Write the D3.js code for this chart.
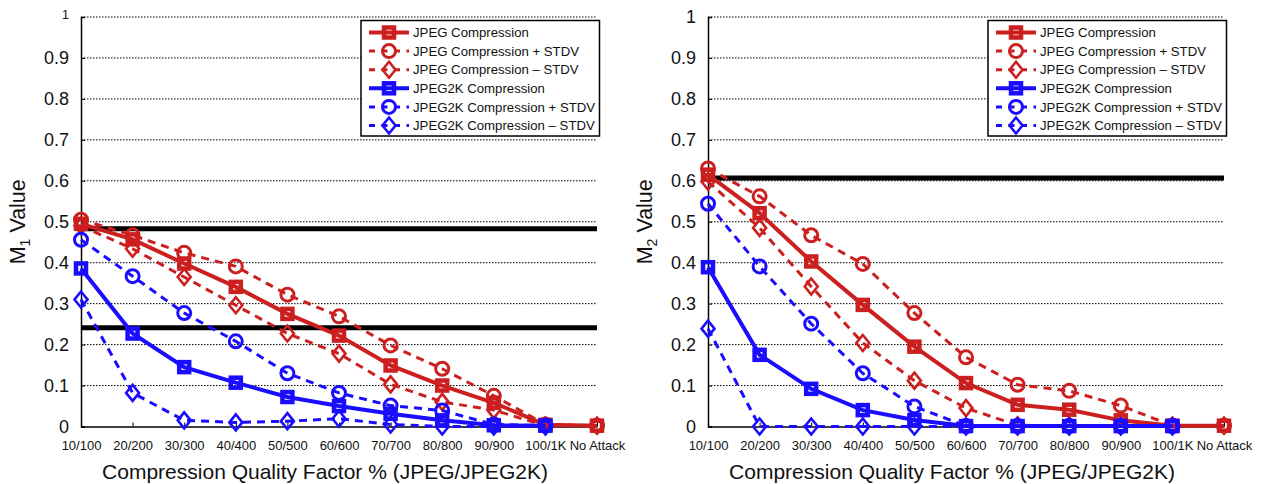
<!DOCTYPE html>
<html>
<head>
<meta charset="utf-8">
<script src="https://cdn.jsdelivr.net/npm/d3@7"></script>
<style>
  body { margin: 0; background: #fff; }
  svg { display: block; font-family: "Liberation Sans", Arial, Helvetica, sans-serif; }
  .grid line { stroke: #000; stroke-width: 1; stroke-dasharray: 1.5,1.5; }
</style>
</head>
<body>
<div id="chart"></div>
<script>
// categories on the x axis
var categories = ["10/100", "20/200", "30/300", "40/400", "50/500", "60/600",
                  "70/700", "80/800", "90/900", "100/1K", "No Attack"];

var yTicks = [0, 0.1, 0.2, 0.3, 0.4, 0.5, 0.6, 0.7, 0.8, 0.9, 1];

var seriesNames = ["JPEG Compression", "JPEG Compression + STDV", "JPEG Compression \u2013 STDV",
                   "JPEG2K Compression", "JPEG2K Compression + STDV", "JPEG2K Compression \u2013 STDV"];

// M1 panel, null = not plotted
var m1JpegMean   = [0.495, 0.457, 0.398, 0.341, 0.275, 0.222, 0.149, 0.100, 0.058, 0.004, 0.002];
var m1JpegPlus   = [0.505, 0.467, 0.424, 0.391, 0.322, 0.269, 0.198, 0.141, 0.075, 0.005, 0.002];
var m1JpegMinus  = [0.490, 0.434, 0.365, 0.296, 0.227, 0.178, 0.103, 0.060, 0.040, 0.002, 0.002];
var m1J2kMean    = [0.386, 0.227, 0.145, 0.107, 0.072, 0.050, 0.031, 0.015, 0.003, 0.002, null];
var m1J2kPlus    = [0.456, 0.367, 0.277, 0.208, 0.130, 0.082, 0.051, 0.039, 0.005, 0.002, null];
var m1J2kMinus   = [0.310, 0.082, 0.015, 0.010, 0.013, 0.019, 0.005, 0.000, 0.000, 0.000, null];
var m1Thresholds = [0.483, 0.241];

// M2 panel
var m2JpegMean   = [0.615, 0.521, 0.403, 0.297, 0.195, 0.106, 0.053, 0.041, 0.015, 0.002, 0.002];
var m2JpegPlus   = [0.630, 0.562, 0.467, 0.397, 0.277, 0.169, 0.102, 0.087, 0.051, 0.002, 0.002];
var m2JpegMinus  = [0.598, 0.485, 0.342, 0.204, 0.112, 0.045, 0.003, 0.002, 0.002, 0.002, 0.002];
var m2J2kMean    = [0.389, 0.175, 0.092, 0.040, 0.016, 0.001, 0.001, 0.001, 0.001, 0.001, null];
var m2J2kPlus    = [0.544, 0.391, 0.251, 0.130, 0.049, 0.001, 0.001, 0.001, 0.001, 0.001, null];
var m2J2kMinus   = [0.239, 0.000, 0.000, 0.000, 0.000, 0.000, 0.000, 0.000, 0.000, 0.000, null];
var m2Thresholds = [0.607];

var red = "#cc1f1f", blue = "#1a0dff";

// style for each of the six series (same order as seriesNames)
var styles = [
    {color: red,  dash: null,  width: 4, marker: "square"},
    {color: red,  dash: "8,6", width: 3, marker: "circle"},
    {color: red,  dash: "8,6", width: 3, marker: "diamond"},
    {color: blue, dash: null,  width: 4, marker: "square"},
    {color: blue, dash: "8,6", width: 3, marker: "circle"},
    {color: blue, dash: "8,6", width: 3, marker: "diamond"}
];

var W = 1264, H = 484;

var svg = d3.select("#chart").append("svg")
    .attr("width", W)
    .attr("height", H);

function drawMarker(g, type, cx, cy, color) {
    if (type == "square") {
        g.append("rect")
            .attr("x", cx - 5).attr("y", cy - 5)
            .attr("width", 10).attr("height", 10)
            .attr("fill", "none").attr("stroke", color).attr("stroke-width", 4.5);
    } else if (type == "circle") {
        g.append("circle")
            .attr("cx", cx).attr("cy", cy).attr("r", 6.5)
            .attr("fill", "none").attr("stroke", color).attr("stroke-width", 3);
    } else {
        g.append("path")
            .attr("d", "M" + cx + "," + (cy - 8) + "L" + (cx + 6.5) + "," + cy +
                       "L" + cx + "," + (cy + 8) + "L" + (cx - 6.5) + "," + cy + "Z")
            .attr("fill", "none").attr("stroke", color).attr("stroke-width", 2.6);
    }
}

function drawPanel(opts) {
    var left = opts.left, right = opts.right, top = 17, bottom = 426.5;

    var x = d3.scalePoint()
        .domain(categories)
        .range([left, right]);

    var y = d3.scaleLinear()
        .domain([0, 1])
        .range([bottom, top]);

    var g = svg.append("g");

    // dotted grid lines
    g.append("g")
        .attr("class", "grid")
        .selectAll("line")
        .data(yTicks.filter(function(d) { return d > 0; }))
        .enter().append("line")
        .attr("x1", left).attr("x2", right)
        .attr("y1", function(d) { return y(d); })
        .attr("y2", function(d) { return y(d); });

    // y axis
    var yAxis = g.append("g")
        .attr("transform", "translate(" + left + ",0)")
        .call(d3.axisLeft(y).tickValues(yTicks).tickSize(-4).tickPadding(12)
              .tickFormat(function(d) { return d == 0 ? "0" : d3.format("")(d); }));
    yAxis.select(".domain").attr("stroke-width", 1.5);
    yAxis.selectAll("text")
        .attr("font-size", 18)
        .attr("fill", "#111")
        .attr("font-family", "Liberation Sans, Arial, sans-serif");
    if (opts.smallTop) {
        yAxis.selectAll(".tick").filter(function(d) { return d == 1; })
            .select("text").attr("font-size", 12.5).attr("dy", "0.15em");
    }

    // x axis
    var xAxis = g.append("g")
        .attr("transform", "translate(0," + bottom + ")")
        .call(d3.axisBottom(x).tickSize(-4).tickPadding(14).tickSizeOuter(0));
    xAxis.select(".domain").attr("stroke-width", 1.5);
    xAxis.selectAll("text")
        .attr("font-size", 13)
        .attr("fill", "#111")
        .attr("font-family", "Liberation Sans, Arial, sans-serif");

    // threshold lines
    g.selectAll(".thresh")
        .data(opts.thresholds)
        .enter().append("line")
        .attr("class", "thresh")
        .attr("x1", left).attr("x2", right)
        .attr("y1", function(d) { return y(d); })
        .attr("y2", function(d) { return y(d); })
        .attr("stroke", "#000")
        .attr("stroke-width", 5);

    var line = d3.line()
        .defined(function(d) { return d.v !== null; })
        .x(function(d) { return x(d.c); })
        .y(function(d) { return y(d.v); });

    opts.series.forEach(function(values, i) {
        var st = styles[i];
        var data = values.map(function(v, j) { return {c: categories[j], v: v}; });
        g.append("path")
            .datum(data)
            .attr("d", line)
            .attr("fill", "none")
            .attr("stroke", st.color)
            .attr("stroke-width", st.width)
            .attr("stroke-dasharray", st.dash);
        var mg = g.append("g");
        data.filter(function(d) { return d.v !== null; }).forEach(function(d) {
            drawMarker(mg, st.marker, x(d.c), y(d.v), st.color);
        });
    });

    // x axis title
    g.append("text")
        .attr("x", left + (right - left) / 2 - 14)
        .attr("y", 479)
        .attr("text-anchor", "middle")
        .attr("font-size", 21)
        .attr("fill", "#111")
        .text("Compression Quality Factor % (JPEG/JPEG2K)");

    // y axis title with subscript
    var yt = g.append("text")
        .attr("transform", "translate(" + (left - 56) + "," + ((top + bottom) / 2) + ") rotate(-90)")
        .attr("text-anchor", "middle")
        .attr("font-size", 21.5)
        .attr("fill", "#111");
    yt.append("tspan").text("M");
    yt.append("tspan").attr("font-size", 14).attr("dy", 5).text(opts.sub);
    yt.append("tspan").attr("dy", -5).text(" Value");

    // legend
    var lx = right - 236, ly = 20.5, lw = 238.5, lh = 115.5;
    var leg = g.append("g");
    leg.append("rect")
        .attr("x", lx).attr("y", ly)
        .attr("width", lw).attr("height", lh)
        .attr("fill", "#fff")
        .attr("stroke", "#000")
        .attr("stroke-width", 1.5);
    seriesNames.forEach(function(name, i) {
        var st = styles[i];
        var ry = ly + 12 + i * 18.6;
        leg.append("line")
            .attr("x1", lx + 8).attr("x2", lx + 48)
            .attr("y1", ry).attr("y2", ry)
            .attr("stroke", st.color)
            .attr("stroke-width", st.width)
            .attr("stroke-dasharray", st.dash ? "6,6.5" : null);
        drawMarker(leg, st.marker, lx + 28, ry, st.color);
        leg.append("text")
            .attr("x", lx + 52)
            .attr("y", ry + 4.6)
            .attr("font-size", 13.2)
            .attr("fill", "#111")
            .text(name);
    });
}

drawPanel({
    left: 81, right: 597, sub: "1", smallTop: true,
    series: [m1JpegMean, m1JpegPlus, m1JpegMinus, m1J2kMean, m1J2kPlus, m1J2kMinus],
    thresholds: m1Thresholds
});

drawPanel({
    left: 708, right: 1224, sub: "2", smallTop: false,
    series: [m2JpegMean, m2JpegPlus, m2JpegMinus, m2J2kMean, m2J2kPlus, m2J2kMinus],
    thresholds: m2Thresholds
});
</script>
</body>
</html>
